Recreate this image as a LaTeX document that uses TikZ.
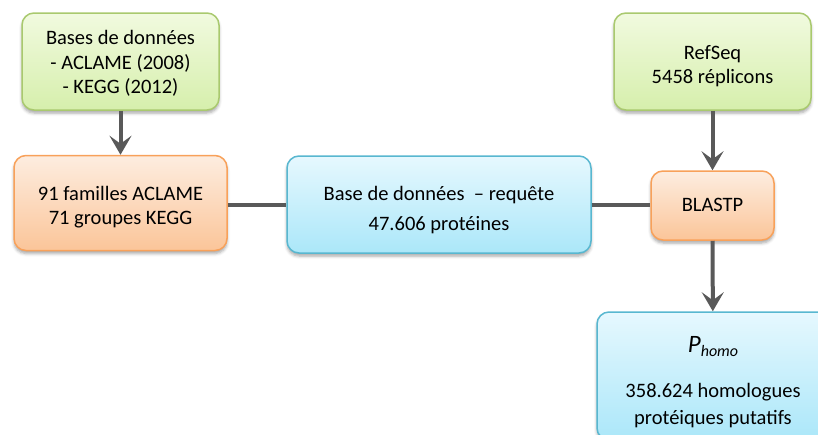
\documentclass[tikz,border=0pt]{standalone}
\usepackage{fontspec}
\setmainfont{Carlito}
\usetikzlibrary{arrows.meta,shadows.blur}

\definecolor{greenline}{HTML}{A9C96E}
\definecolor{greentop}{HTML}{F1FADF}
\definecolor{greenbot}{HTML}{D6EFAC}
\definecolor{orangeline}{HTML}{F8A15A}
\definecolor{orangetop}{HTML}{FDEDE0}
\definecolor{orangebot}{HTML}{FBC599}
\definecolor{blueline}{HTML}{58B7D0}
\definecolor{bluetop}{HTML}{E6F8FE}
\definecolor{bluebot}{HTML}{ABE7F9}
\definecolor{linkgrey}{HTML}{595959}

% centred lines of box text, lowered by #1 without changing the box size
\newcommand\boxlines[2]{\raisebox{-#1}[\height][\depth]{%
  \begin{tabular}{@{}c@{}}#2\end{tabular}}}

\tikzset{
  box/.style={rounded corners=12pt, line width=1.5pt,
    inner sep=0pt, font=\fontsize{20.5}{24.5}\selectfont,
    blur shadow={shadow xshift=0pt, shadow yshift=-3pt,
      shadow blur radius=3pt, shadow opacity=35}},
  greenbox/.style={box, draw=greenline, top color=greentop, bottom color=greenbot},
  orangebox/.style={box, draw=orangeline, top color=orangetop, bottom color=orangebot},
  bluebox/.style={box, draw=blueline, top color=bluetop, bottom color=bluebot},
  link/.style={draw=linkgrey, line width=4pt},
  arrowlink/.style={link, -{Stealth[length=19pt, width=22pt, inset=8pt]}}
}

\begin{document}
\begin{tikzpicture}[x=1pt, y=-1pt]
\useasboundingbox (0,0) rectangle (818,434);
\clip (0,0) rectangle (818,434);

% source databases
\node[greenbox, minimum width=197pt, minimum height=97pt] (dbs) at (120.5,61.5)
  {\boxlines{3pt}{Bases de données\\- ACLAME (2008)\\- KEGG (2012)}};
\node[greenbox, minimum width=197pt, minimum height=97pt] (refseq) at (712.5,61.5)
  {\boxlines{5pt}{RefSeq\\5458 réplicons}};

% processing steps
\node[orangebox, minimum width=213pt, minimum height=95pt] (fam) at (120.5,203)
  {\boxlines{4.5pt}{91 familles ACLAME\\71 groupes KEGG}};
\node[bluebox, minimum width=304pt, minimum height=97pt,
  font=\fontsize{20.5}{30}\selectfont] (query) at (439,204.5)
  {\boxlines{5pt}{Base de données \ – requête\\47.606 protéines}};
\node[orangebox, minimum width=123pt, minimum height=69pt] (blast) at (712.5,205.5)
  {\boxlines{1pt}{BLASTP}};

% result
\node[bluebox, minimum width=232pt, minimum height=128pt,
  font=\fontsize{20.5}{27}\selectfont] (homo) at (713,376)
  {\boxlines{7pt}{{\fontsize{25}{27}\selectfont\textit{P}\raisebox{-0.35ex}{\fontsize{16}{16}\selectfont\textit{homo}}}\\[18pt]
   358.624 homologues\\protéiques putatifs}};

% connectors
\draw[arrowlink] (dbs) -- (fam);
\draw[link] (fam.east |- 0,205) -- (query.west |- 0,205);
\draw[link] (query.east |- 0,205) -- (blast.west |- 0,205);
\draw[arrowlink] (refseq) -- (blast);
\draw[arrowlink] (blast) -- (homo);
\end{tikzpicture}
\end{document}
